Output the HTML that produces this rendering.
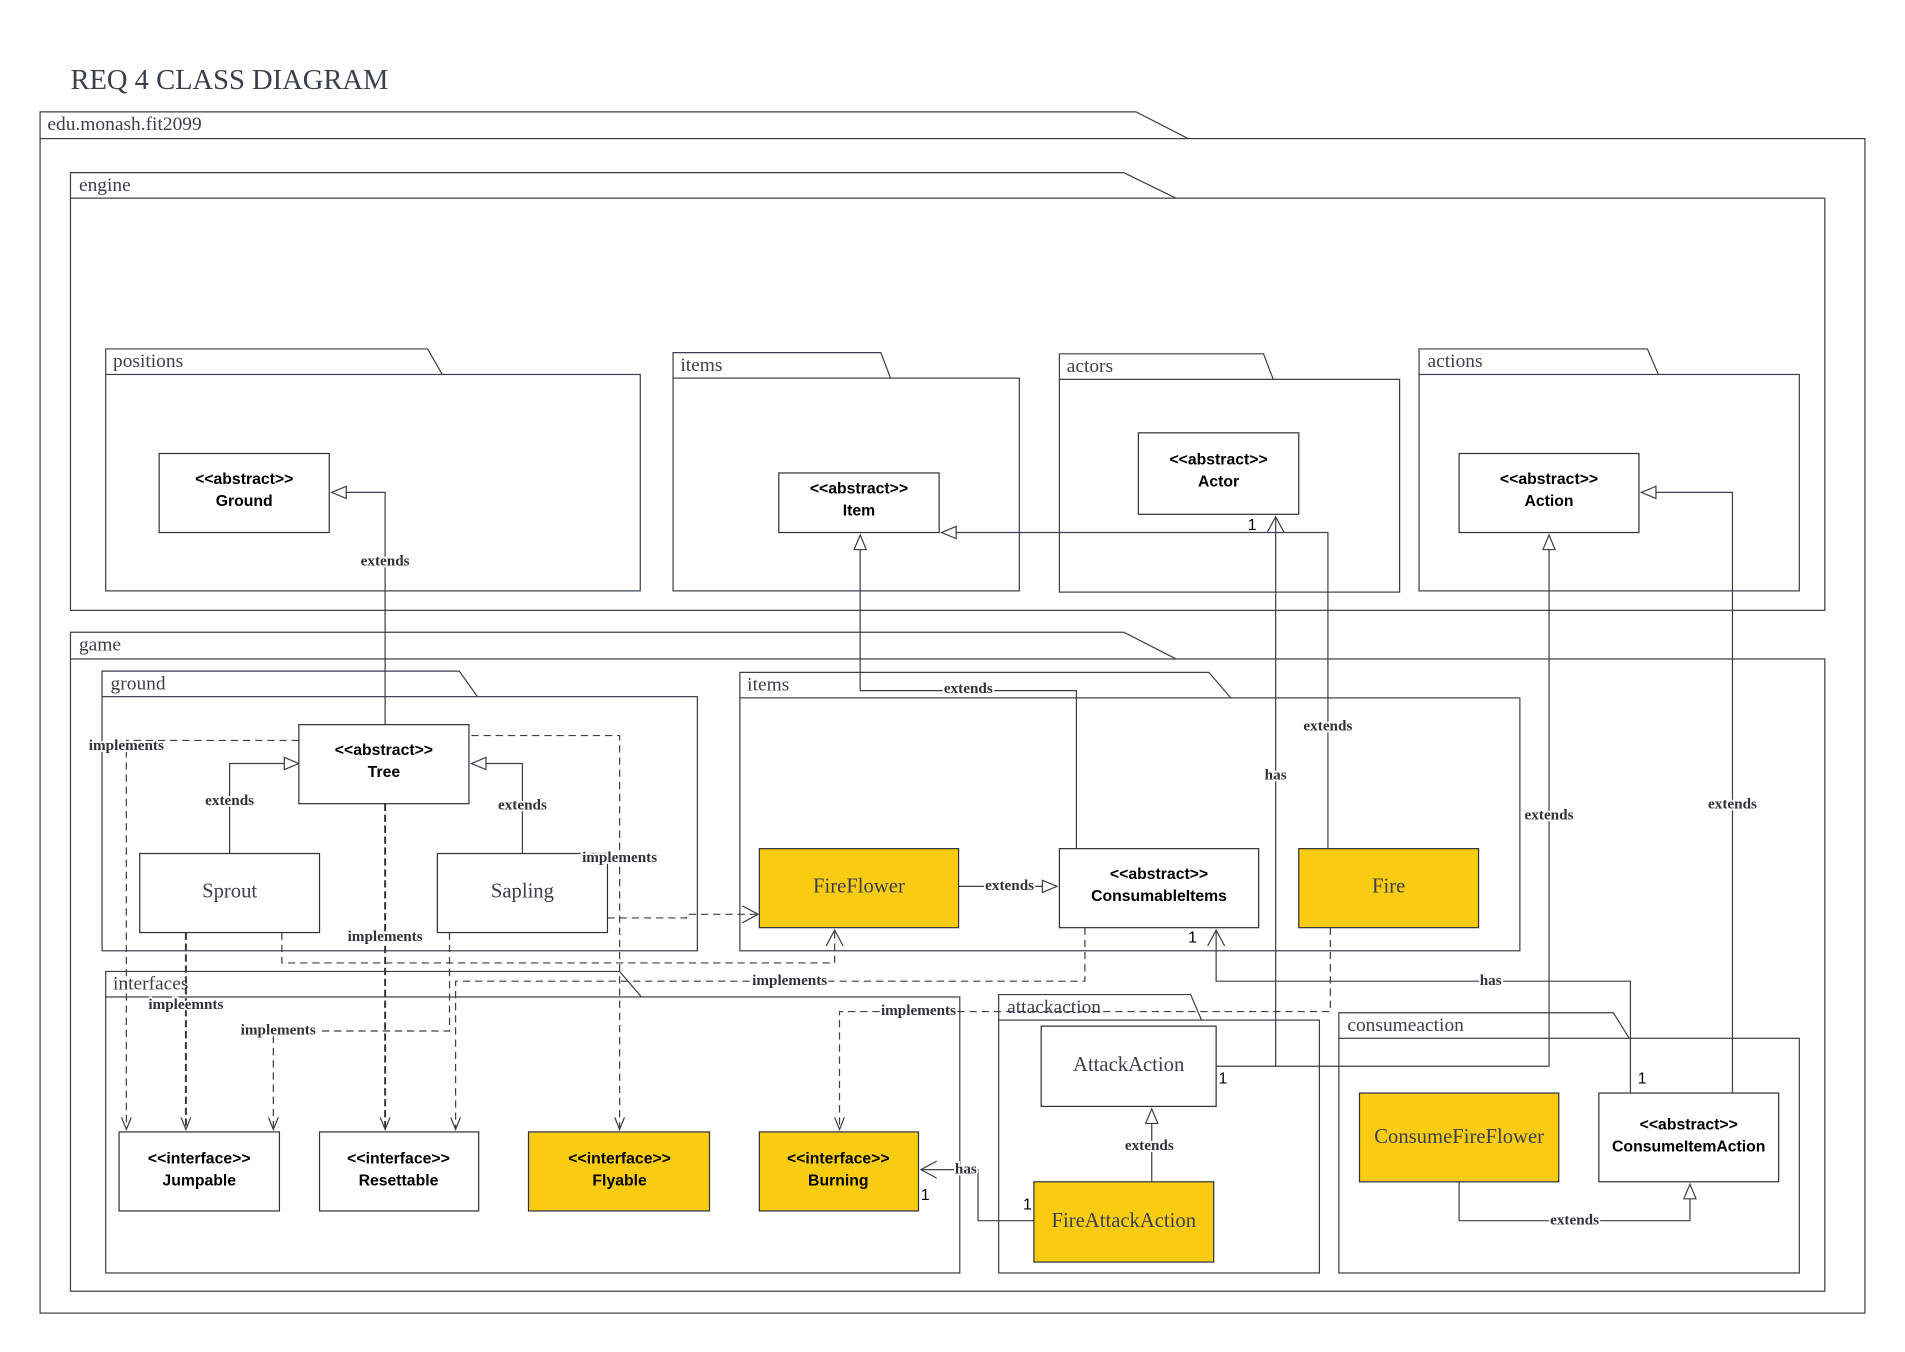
<!DOCTYPE html>
<html><head><meta charset="utf-8">
<style>
html,body{margin:0;padding:0;background:#fff;}
svg{display:block;}
.pk{fill:#fff;stroke:#3a3f4b;stroke-width:1;}
.pn{font-family:"Liberation Serif",serif;font-size:16px;fill:#3a3f4b;}
.cb{fill:#fff;stroke:#2e323b;stroke-width:1;}
.cy{fill:#f9cc12;stroke:#2e323b;stroke-width:1;}
.ct{font-family:"Liberation Sans",sans-serif;font-size:13px;font-weight:bold;fill:#000;text-anchor:middle;}
.cs{font-family:"Liberation Serif",serif;font-size:17px;fill:#3a3f4b;text-anchor:middle;}
.e{fill:none;stroke:#3a3f4b;stroke-width:1;}
.d{fill:none;stroke:#3a3f4b;stroke-width:1;stroke-dasharray:6,4;}
.dd{fill:none;stroke:#2e323b;stroke-width:1.6;stroke-dasharray:6,3;}
.tri{fill:#fff;stroke:#3a3f4b;stroke-width:1;}
.lb{font-family:"Liberation Serif",serif;font-size:12.5px;font-weight:bold;fill:#2e323b;text-anchor:middle;paint-order:stroke;stroke:#fff;stroke-width:3px;}
.n{font-family:"Liberation Sans",sans-serif;font-size:13px;fill:#000;}
</style></head><body>
<svg width="1905" height="1352" viewBox="0 0 1568 1112" preserveAspectRatio="none" xmlns="http://www.w3.org/2000/svg">
<text x="58" y="73" font-family="Liberation Serif, serif" font-size="23.5" fill="#3a3f4b">REQ 4 CLASS DIAGRAM</text>

<g>
<path class="pk" d="M33,114 V92 H935 L978,114"/><rect class="pk" x="33" y="114" width="1502" height="966"/>
<text class="pn" x="39" y="107">edu.monash.fit2099</text>
<path class="pk" d="M58,163 V142 H925 L968,163"/><rect class="pk" x="58" y="163" width="1444" height="339"/>
<text class="pn" x="65" y="157">engine</text>
<path class="pk" d="M87,308 V287 H352 L364,308"/><rect class="pk" x="87" y="308" width="440" height="178"/>
<text class="pn" x="93" y="302">positions</text>
<path class="pk" d="M554,311 V290 H725 L733,311"/><rect class="pk" x="554" y="311" width="285" height="175"/>
<text class="pn" x="560" y="305">items</text>
<path class="pk" d="M872,312 V291 H1040 L1048,312"/><rect class="pk" x="872" y="312" width="280" height="175"/>
<text class="pn" x="878" y="306">actors</text>
<path class="pk" d="M1168,308 V287 H1356 L1365,308"/><rect class="pk" x="1168" y="308" width="313" height="178"/>
<text class="pn" x="1175" y="302">actions</text>

<path class="pk" d="M58,542 V520 H925 L968,542"/><rect class="pk" x="58" y="542" width="1444" height="520"/>
<text class="pn" x="65" y="535">game</text>
<path class="pk" d="M84,573 V552 H378 L393,573"/><rect class="pk" x="84" y="573" width="490" height="209"/>
<text class="pn" x="91" y="567">ground</text>
<path class="pk" d="M609,574 V553 H995 L1013,574"/><rect class="pk" x="609" y="574" width="642" height="208"/>
<text class="pn" x="615" y="568">items</text>
<path class="pk" d="M87,820 V799 H510 L528,820"/><rect class="pk" x="87" y="820" width="703" height="227"/>
<text class="pn" x="93" y="814">interfaces</text>
<path class="pk" d="M822,839 V818 H980 L989,839"/><rect class="pk" x="822" y="839" width="264" height="208"/>
<text class="pn" x="829" y="833">attackaction</text>
<path class="pk" d="M1102,854 V833 H1328 L1341,854"/><rect class="pk" x="1102" y="854" width="379" height="193"/>
<text class="pn" x="1109" y="848">consumeaction</text>
</g>

<g>
<path class="e" d="M317,596 V405 H285"/><path class="tri" d="M273,405 L285,400 L285,410 Z"/>
<text class="lb" x="317" y="465">extends</text>
<path class="e" d="M189,702 V628 H234"/><path class="tri" d="M246,628 L234,623 L234,633 Z"/>
<text class="lb" x="189" y="662">extends</text>
<path class="e" d="M430,702 V628 H400"/><path class="tri" d="M388,628 L400,623 L400,633 Z"/>
<text class="lb" x="430" y="666">extends</text>
<path class="e" d="M886,698 V568 H708 V452"/><path class="tri" d="M708,440 L703,452 L713,452 Z"/>
<text class="lb" x="797" y="570">extends</text>
<path class="e" d="M1093,698 V438 H787"/><path class="tri" d="M775,438 L787,433 L787,443 Z"/>
<text class="lb" x="1093" y="601">extends</text>
<path class="e" d="M789,729 H858"/><path class="tri" d="M870,729 L858,724 L858,734 Z"/>
<text class="lb" x="831" y="732">extends</text>
<path class="e" d="M1001,877 H1050 V425"/><path class="e" d="M1043,438 L1050,425 L1057,438"/>
<text class="lb" x="1050" y="641">has</text>
<text class="n" x="1027" y="436">1</text><text class="n" x="1003" y="891">1</text>
<path class="e" d="M1050,877 H1275 V452"/><path class="tri" d="M1275,440 L1270,452 L1280,452 Z"/>
<text class="lb" x="1275" y="674">extends</text>
<path class="e" d="M1426,899 V405 H1363"/><path class="tri" d="M1351,405 L1363,400 L1363,410 Z"/>
<text class="lb" x="1426" y="665">extends</text>
<path class="e" d="M1342,899 V807 H1001 V765"/><path class="e" d="M994,778 L1001,765 L1008,778"/>
<text class="lb" x="1227" y="810">has</text>
<text class="n" x="978" y="775">1</text><text class="n" x="1348" y="891">1</text>
<path class="e" d="M948,972 V924"/><path class="tri" d="M948,912 L943,924 L953,924 Z"/>
<text class="lb" x="946" y="946">extends</text>
<path class="e" d="M1201,972 V1004 H1391 V986"/><path class="tri" d="M1391,974 L1386,986 L1396,986 Z"/>
<text class="lb" x="1296" y="1007">extends</text>
<path class="e" d="M851,1004 H805 V962 H758"/><path class="e" d="M771,955 L758,962 L771,969"/>
<text class="lb" x="795" y="965">has</text>
<text class="n" x="842" y="995">1</text><text class="n" x="758" y="987">1</text>

<path class="d" d="M246,609 H104 V929"/><path class="e" d="M100,919 L104,929 L108,919"/>
<text class="lb" x="104" y="617">implements</text>
<path class="d" d="M388,605 H510 V929"/><path class="e" d="M506,919 L510,929 L514,919"/>
<path class="dd" d="M317,661 V929"/><path class="e" d="M313,919 L317,929 L321,919"/>
<text class="lb" x="317" y="774">implements</text>
<path class="dd" d="M153,767 V929"/><path class="e" d="M149,919 L153,929 L157,919"/>
<text class="lb" x="153" y="830">impleemnts</text>
<path class="d" d="M232,767 V792 H687 V765"/><path class="e" d="M680,778 L687,765 L694,778"/>
<path class="d" d="M500,755 H565 V752 H623"/><path class="e" d="M611,745 L624,752 L611,759"/>
<path class="d" d="M370,767 V848 H225 V929"/><path class="e" d="M221,919 L225,929 L229,919"/>
<text class="lb" x="229" y="851">implements</text>
<path class="d" d="M893,763 V807 H375 V929"/><path class="e" d="M371,919 L375,929 L379,919"/>
<text class="lb" x="650" y="810">implements</text>
<path class="d" d="M1095,763 V832 H691 V929"/><path class="e" d="M687,919 L691,929 L695,919"/>
<text class="lb" x="756" y="835">implements</text>
</g>

<g>
<rect class="cb" x="131" y="373" width="140" height="65"/><text class="ct" x="201" y="398">&lt;&lt;abstract&gt;&gt;</text><text class="ct" x="201" y="416">Ground</text>
<rect class="cb" x="641" y="389" width="132" height="49"/><text class="ct" x="707" y="406">&lt;&lt;abstract&gt;&gt;</text><text class="ct" x="707" y="424">Item</text>
<rect class="cb" x="937" y="356" width="132" height="67"/><text class="ct" x="1003" y="382">&lt;&lt;abstract&gt;&gt;</text><text class="ct" x="1003" y="400">Actor</text>
<rect class="cb" x="1201" y="373" width="148" height="65"/><text class="ct" x="1275" y="398">&lt;&lt;abstract&gt;&gt;</text><text class="ct" x="1275" y="416">Action</text>
<rect class="cb" x="246" y="596" width="140" height="65"/><text class="ct" x="316" y="621">&lt;&lt;abstract&gt;&gt;</text><text class="ct" x="316" y="639">Tree</text>
<rect class="cb" x="115" y="702" width="148" height="65"/><text class="cs" x="189" y="738">Sprout</text>
<rect class="cb" x="360" y="702" width="140" height="65"/><text class="cs" x="430" y="738">Sapling</text>
<rect class="cy" x="625" y="698" width="164" height="65"/><text class="cs" x="707" y="734">FireFlower</text>
<rect class="cb" x="872" y="698" width="164" height="65"/><text class="ct" x="954" y="723">&lt;&lt;abstract&gt;&gt;</text><text class="ct" x="954" y="741">ConsumableItems</text>
<rect class="cy" x="1069" y="698" width="148" height="65"/><text class="cs" x="1143" y="734">Fire</text>
<rect class="cb" x="857" y="844" width="144" height="66"/><text class="cs" x="929" y="881">AttackAction</text>
<rect class="cy" x="851" y="972" width="148" height="66"/><text class="cs" x="925" y="1009">FireAttackAction</text>
<rect class="cy" x="1119" y="899" width="164" height="73"/><text class="cs" x="1201" y="940">ConsumeFireFlower</text>
<rect class="cb" x="1316" y="899" width="148" height="73"/><text class="ct" x="1390" y="929">&lt;&lt;abstract&gt;&gt;</text><text class="ct" x="1390" y="947">ConsumeItemAction</text>
<rect class="cb" x="98" y="931" width="132" height="65"/><text class="ct" x="164" y="957">&lt;&lt;interface&gt;&gt;</text><text class="ct" x="164" y="975">Jumpable</text>
<rect class="cb" x="263" y="931" width="131" height="65"/><text class="ct" x="328" y="957">&lt;&lt;interface&gt;&gt;</text><text class="ct" x="328" y="975">Resettable</text>
<rect class="cy" x="435" y="931" width="149" height="65"/><text class="ct" x="510" y="957">&lt;&lt;interface&gt;&gt;</text><text class="ct" x="510" y="975">Flyable</text>
<rect class="cy" x="625" y="931" width="131" height="65"/><text class="ct" x="690" y="957">&lt;&lt;interface&gt;&gt;</text><text class="ct" x="690" y="975">Burning</text>
</g>
<text class="lb" x="510" y="709">implements</text>
</svg>
</body></html>
